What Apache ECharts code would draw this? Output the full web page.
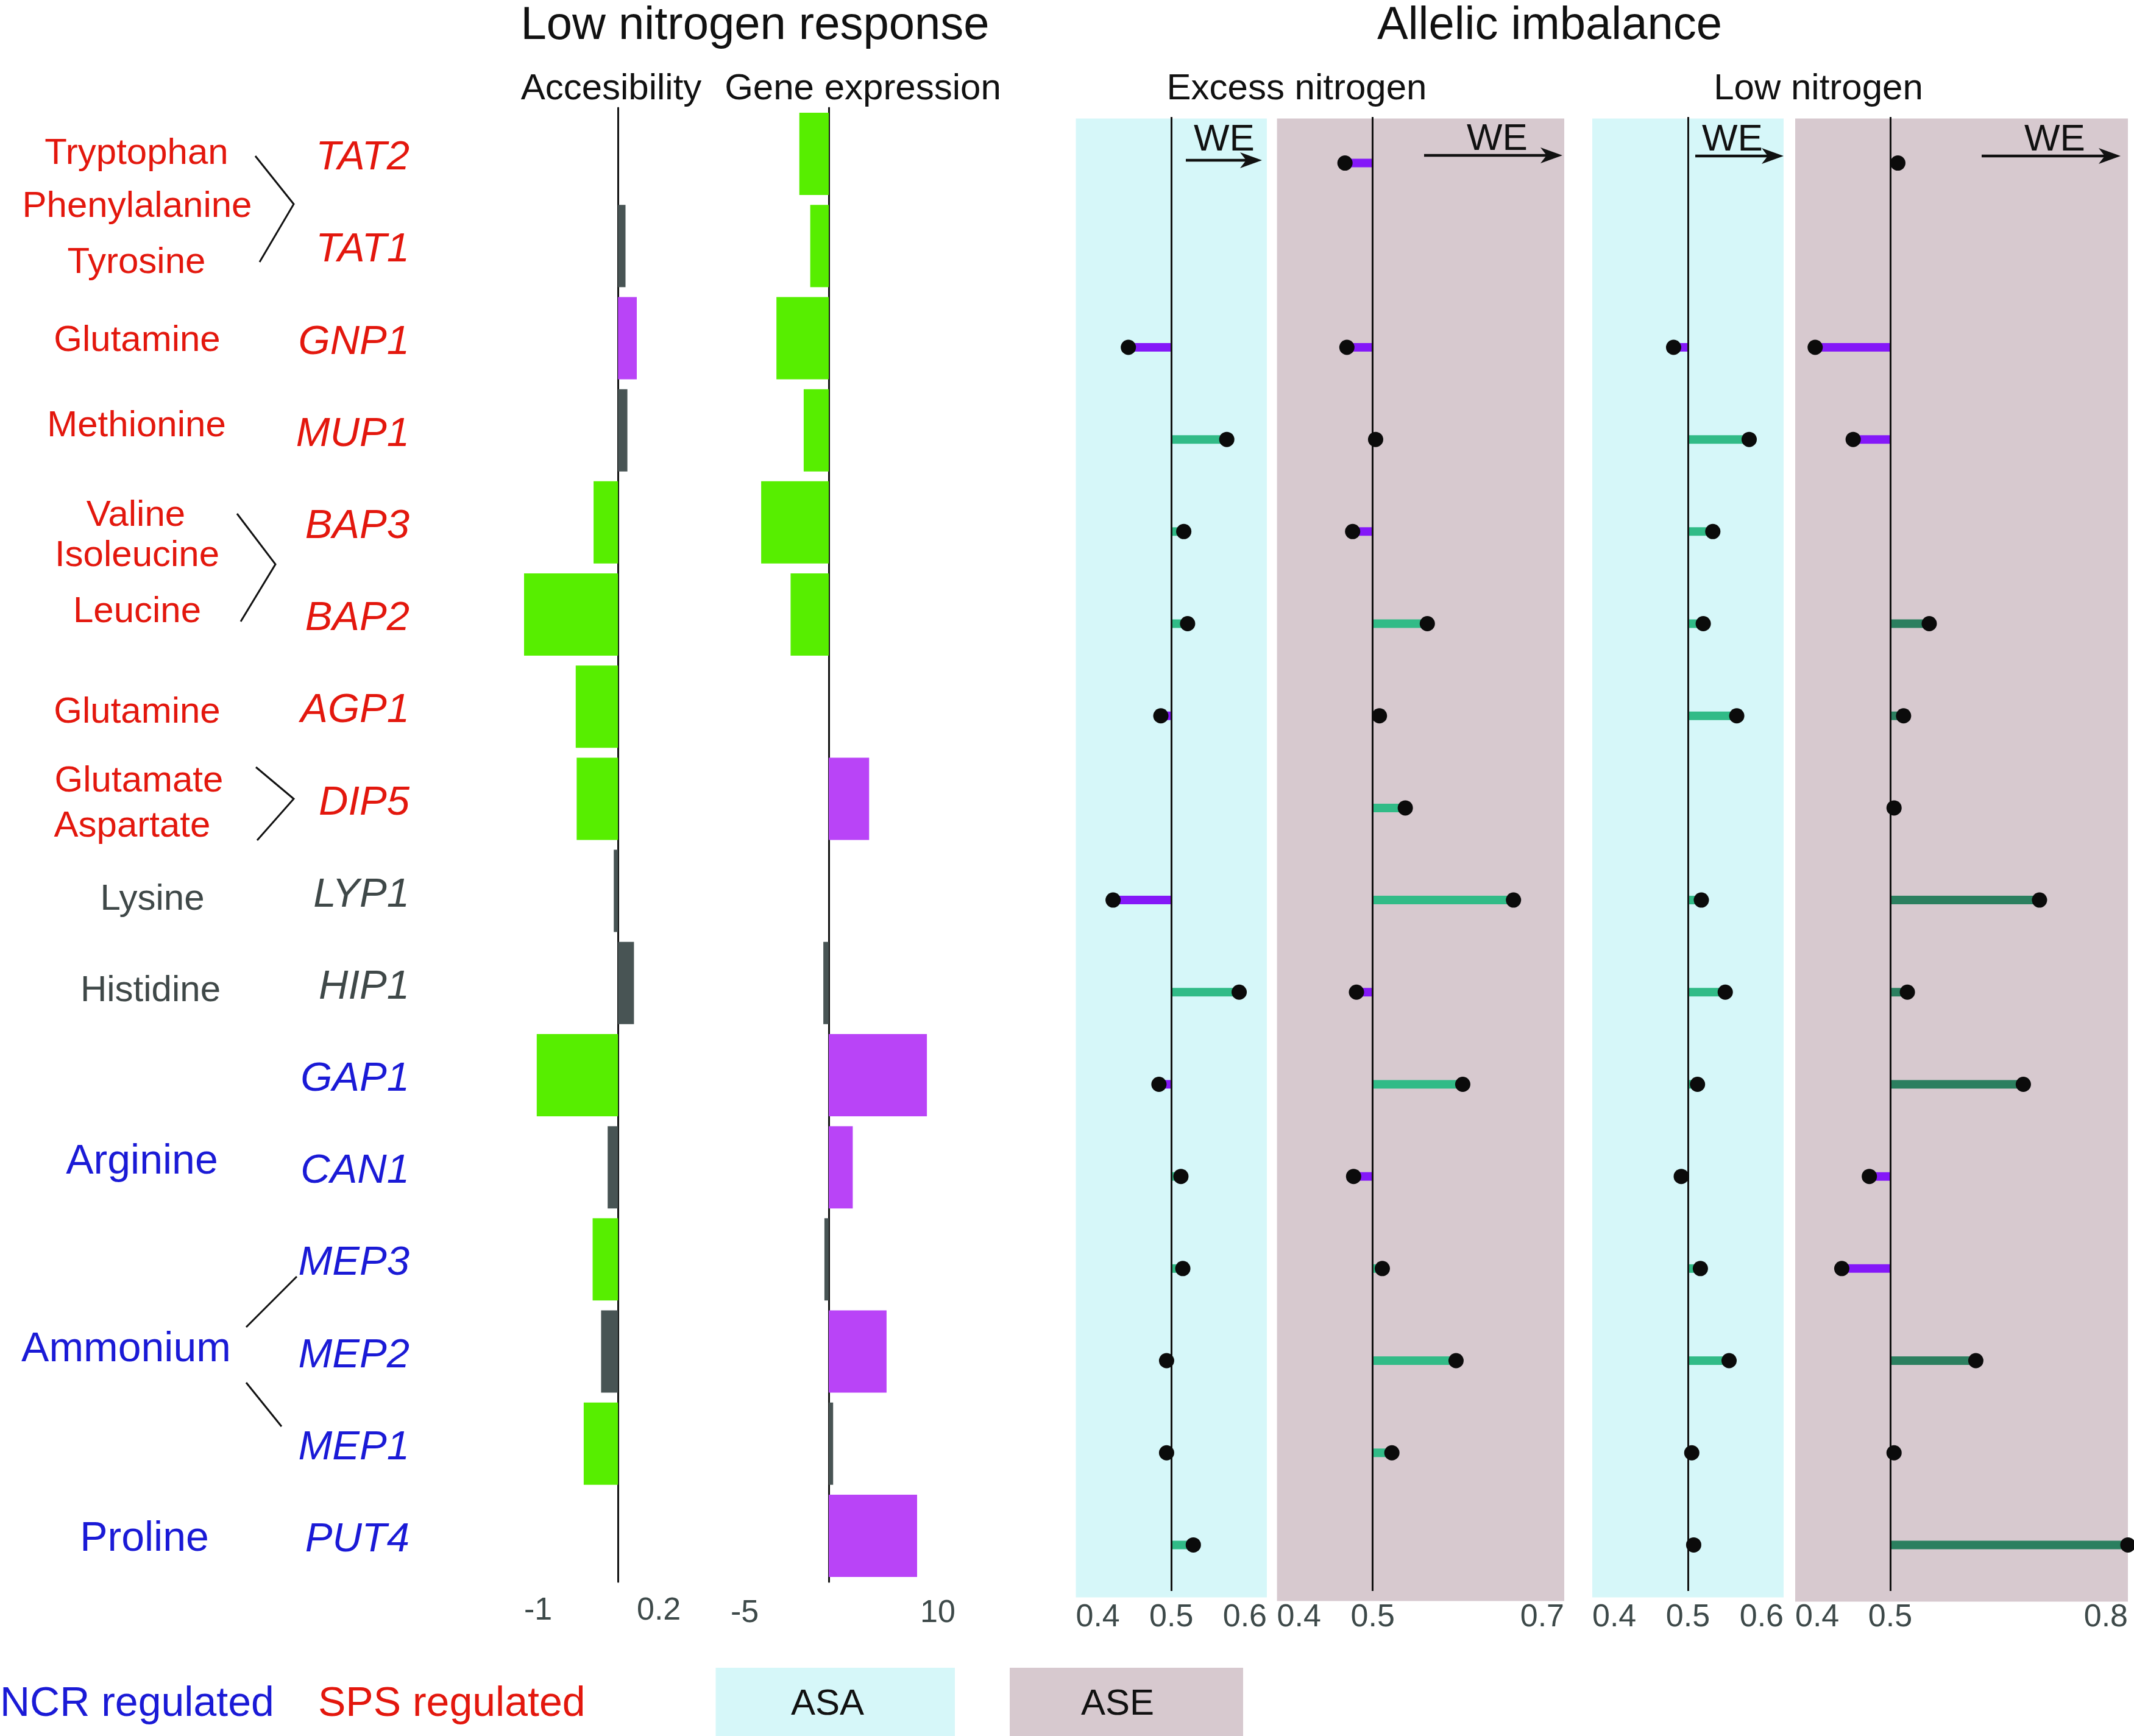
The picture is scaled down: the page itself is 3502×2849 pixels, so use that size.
<!DOCTYPE html>
<html><head><meta charset="utf-8">
<script src="https://cdn.jsdelivr.net/npm/echarts@6/dist/echarts.min.js"></script>
<style>html,body{margin:0;padding:0;background:#fff;}#c{width:3502px;height:2849px;}</style>
</head><body><div id="c"></div>
<script>
// ---------------- data ----------------
const genes = ['TAT2','TAT1','GNP1','MUP1','BAP3','BAP2','AGP1','DIP5','LYP1','HIP1','GAP1','CAN1','MEP3','MEP2','MEP1','PUT4'];
const geneGroup = ['SPS','SPS','SPS','SPS','SPS','SPS','SPS','SPS','none','none','NCR','NCR','NCR','NCR','NCR','NCR'];

// Low nitrogen response
const accessibility = [0, 0.08, 0.20, 0.10, -0.26, -1.0, -0.45, -0.44, -0.045, 0.17, -0.865, -0.11, -0.27, -0.18, -0.365, 0];
const accSignificant = [false,false,true,false,true,true,true,true,false,false,true,false,true,false,true,false];
const expression = [-2.7, -1.7, -4.8, -2.3, -6.2, -3.5, 0, 3.7, 0, -0.5, 9.0, 2.2, -0.4, 5.3, 0.4, 8.1];
const expSignificant = [true,true,true,true,true,true,false,true,false,false,true,true,false,true,false,true];

// Allelic imbalance (allele fraction, null = not measured)
const excessASA = [null, null, 0.455, 0.558, 0.513, 0.517, 0.489, null, 0.439, 0.571, 0.487, 0.510, 0.512, 0.495, 0.495, 0.523];
const excessASE = [0.471, null, 0.473, 0.503, 0.479, 0.557, 0.507, 0.534, 0.647, 0.483, 0.594, 0.480, 0.510, 0.587, 0.520, null];
const lowASA    = [null, null, 0.485, 0.564, 0.526, 0.516, 0.551, null, 0.514, 0.539, 0.510, 0.493, 0.513, 0.543, 0.504, 0.506];
const lowASE    = [0.508, null, 0.421, 0.461, null, 0.541, 0.514, 0.504, 0.657, 0.518, 0.640, 0.478, 0.449, 0.590, 0.504, 0.750];

// tick labels
const accTicks = [-1, 0.2];
const accTickLabels = ['-1', '0.2'];
const expTicks = [-9, 10];
const expTickLabels = ['-5', '10'];
const asaTicks = [0.4, 0.5, 0.6];
const excessAseTicks = [0.4, 0.5, 0.7];
const lowAseTicks = [0.4, 0.5, 0.75];

// amino-acid substrate labels
const aminoText = ['Tryptophan','Phenylalanine','Tyrosine','Glutamine','Methionine','Valine','Isoleucine','Leucine','Glutamine','Glutamate','Aspartate','Lysine','Histidine','Arginine','Ammonium','Proline'];
const aminoGroup = ['SPS','SPS','SPS','SPS','SPS','SPS','SPS','SPS','SPS','SPS','SPS','none','none','NCR','NCR','NCR'];

// ---------------- styling / layout ----------------
const FONT = '"Liberation Sans", Arial, Helvetica, sans-serif';
const groupColor = {SPS:'#e3170d', NCR:'#1a1ad6', none:'#3f4848'};
const groupFont = {SPS: 60, none: 60, NCR: 68};
const GREEN = '#57ee00', PURPLE = '#b944f7', GREY = '#485454';
const SEG_PURPLE = '#8418f8', SEG_GREEN = '#31bb87', SEG_DKGREEN = '#2b7f5f';
const TICK_COLOR = '#3d4949';
const aminoPos = [[224,252],[225,339],[224,431],[225,559],[224,699],[223,846],[225,912],[225,1004],[225,1169],[228,1282],[217,1356],[250,1476],[247,1626],[233,1907],[207,2215],[237,2526]];

const barTop = 177, barH = 2419;
const dotTop = 192, dotH = 2419;

const grids = [
  {left: 860, width: 185, top: barTop, height: barH},      // 0 accessibility
  {left: 1199, width: 340, top: barTop, height: barH},     // 1 expression
  {left: 1765.5, width: 313.5, top: dotTop, height: dotH}, // 2 excess ASA
  {left: 2095.6, width: 471.4, top: dotTop, height: dotH}, // 3 excess ASE
  {left: 2613, width: 314, top: dotTop, height: dotH},     // 4 low ASA
  {left: 2946, width: 546, top: dotTop, height: dotH},     // 5 low ASE
  {left: 682, width: 2, top: barTop + 7, height: barH}     // 6 gene labels
].map(g => Object.assign({outerBoundsMode: 'none', containLabel: false, show: false}, g));

function barColor(v, sig) {
  if (!sig || v === 0) return GREY;
  return v < 0 ? GREEN : PURPLE;
}

function valueAxis(gi, min, max, ticks, labels, alignMin, alignMax, margin) {
  return {
    type: 'value', gridIndex: gi, min: min, max: max,
    axisLine: {show: false}, axisTick: {show: false}, splitLine: {show: false},
    axisLabel: {
      show: true, customValues: ticks, margin: margin,
      fontFamily: FONT, fontSize: 52, color: TICK_COLOR,
      alignMinLabel: alignMin, alignMaxLabel: alignMax,
      formatter: function (v) {
        const i = ticks.findIndex(t => Math.abs(t - v) < 1e-9);
        if (labels) return i >= 0 ? labels[i] : '';
        return (+v).toFixed(1);
      }
    }
  };
}

function catAxis(gi, showLine) {
  return {
    type: 'category', gridIndex: gi, data: genes, inverse: true,
    axisLine: {show: !!showLine, onZero: true, lineStyle: {color: '#111', width: 3}},
    axisTick: {show: false}, axisLabel: {show: false}, splitLine: {show: false}
  };
}

const xAxes = [
  valueAxis(0, -1, 0.2, accTicks, accTickLabels, 'left', 'left', 22),
  valueAxis(1, -9, 10, expTicks, expTickLabels, 'left', 'center', 26),
  valueAxis(2, 0.4, 0.6, asaTicks, null, 'left', 'right', 18),
  valueAxis(3, 0.4, 0.7, excessAseTicks, null, 'left', 'right', 18),
  valueAxis(4, 0.4, 0.6, asaTicks, null, 'left', 'right', 18),
  valueAxis(5, 0.4, 0.75, lowAseTicks, null, 'left', 'right', 18),
  {type: 'value', gridIndex: 6, show: false}
];
const yAxes = [
  catAxis(0, true), catAxis(1, true), catAxis(2), catAxis(3), catAxis(4), catAxis(5),
  {
    type: 'category', gridIndex: 6, data: genes, inverse: true, position: 'left',
    axisLine: {show: false}, axisTick: {show: false}, splitLine: {show: false},
    axisLabel: {
      show: true, margin: 10, fontFamily: FONT, fontSize: 67, fontStyle: 'italic',
      color: function (v) { return groupColor[geneGroup[genes.indexOf(v)]]; }
    }
  }
];

const series = [];
series.push({
  type: 'bar', xAxisIndex: 0, yAxisIndex: 0, barWidth: 135, z: 2,
  data: accessibility.map((v, i) => ({value: v, itemStyle: {color: barColor(v, accSignificant[i])}}))
});
series.push({
  type: 'bar', xAxisIndex: 1, yAxisIndex: 1, barWidth: 135, z: 2,
  data: expression.map((v, i) => ({value: v, itemStyle: {color: barColor(v, expSignificant[i])}}))
});
series.push({type: 'bar', xAxisIndex: 6, yAxisIndex: 6, data: genes.map(() => 0), silent: true});

function dotPanel(gi, values, greenCol) {
  const pts = values.map((v, i) => [v, i]).filter(d => d[0] !== null);
  series.push({
    type: 'custom', xAxisIndex: gi, yAxisIndex: gi, z: 2, silent: true,
    encode: {x: 0, y: 1},
    data: pts,
    renderItem: function (params, api) {
      const v = api.value(0), c = api.value(1);
      const p0 = api.coord([0.5, c]);
      const p1 = api.coord([v, c]);
      const h = 14;
      return {
        type: 'rect',
        shape: {x: Math.min(p0[0], p1[0]), y: p0[1] - h / 2, width: Math.abs(p1[0] - p0[0]), height: h},
        style: {fill: v < 0.5 ? SEG_PURPLE : greenCol}
      };
    }
  });
  series.push({
    type: 'scatter', xAxisIndex: gi, yAxisIndex: gi, z: 10, silent: true,
    symbol: 'circle', symbolSize: 25,
    itemStyle: {color: '#0b0b0b', opacity: 1},
    data: pts,
    markLine: {
      silent: true, symbol: ['none', 'none'], z: 3,
      label: {show: false},
      lineStyle: {color: '#111', width: 3, type: 'solid'},
      data: [{xAxis: 0.5}]
    }
  });
}
dotPanel(2, excessASA, SEG_GREEN);
dotPanel(3, excessASE, SEG_GREEN);
dotPanel(4, lowASA, SEG_GREEN);
dotPanel(5, lowASE, SEG_DKGREEN);

// ---------------- annotations ----------------
const graphics = [];
function txt(text, x, y, size, color, align) {
  graphics.push({
    type: 'text', z: 20, silent: true,
    style: {text: text, x: x, y: y, fill: color || '#111', font: size + 'px ' + FONT,
      textAlign: align || 'center', align: align || 'center', textVerticalAlign: 'middle', verticalAlign: 'middle'}
  });
}
function rect(x, y, w, h, color, z) {
  graphics.push({type: 'rect', z: z, silent: true, shape: {x: x, y: y, width: w, height: h}, style: {fill: color}});
}
function poly(points, width) {
  graphics.push({type: 'polyline', z: 20, silent: true, shape: {points: points}, style: {stroke: '#111', lineWidth: width || 3, fill: null}});
}
function arrow(x1, x2, y) {
  graphics.push({type: 'line', z: 20, silent: true, shape: {x1: x1, y1: y, x2: x2 - 20, y2: y}, style: {stroke: '#111', lineWidth: 4.5}});
  graphics.push({type: 'polygon', z: 20, silent: true,
    shape: {points: [[x2, y], [x2 - 36, y - 13], [x2 - 26, y], [x2 - 36, y + 13]]}, style: {fill: '#111'}});
}

// panel backgrounds
rect(1765.5, 194.5, 313.5, 2427, '#d6f7f9', 0);
rect(2095.6, 194.5, 471.4, 2433, '#d7c9cf', 0);
rect(2613, 194.5, 314, 2427, '#d6f7f9', 0);
rect(2946, 194.5, 546, 2434, '#d7c9cf', 0);

// titles
txt('Low nitrogen response', 1239, 43, 76);
txt('Allelic imbalance', 2543, 43, 76);
txt('Accesibility', 1003, 146, 60);
txt('Gene expression', 1416, 146, 60);
txt('Excess nitrogen', 2128, 146, 60);
txt('Low nitrogen', 2984, 146, 60);

// amino acids
aminoText.forEach((t, i) => txt(t, aminoPos[i][0], aminoPos[i][1], groupFont[aminoGroup[i]], groupColor[aminoGroup[i]]));

// brackets
poly([[419, 256], [482, 335], [426, 430]]);
poly([[389, 843], [452, 926], [395, 1020]]);
poly([[420, 1259], [482, 1311], [422, 1379]]);
poly([[487, 2095], [404, 2178]]);
poly([[404, 2269], [462, 2341]]);

// WE arrows
txt('WE', 2009, 230, 62);
arrow(1946, 2071, 263);
txt('WE', 2457, 229, 62);
arrow(2337, 2564, 255);
txt('WE', 2843, 230, 62);
arrow(2782, 2927, 256);
txt('WE', 3372, 230, 62);
arrow(3252, 3480, 256);

// legend
txt('NCR regulated', 0, 2797, 68, groupColor.NCR, 'left');
txt('SPS regulated', 522, 2797, 68, groupColor.SPS, 'left');
rect(1174.5, 2737, 392.5, 112, '#d6f7f9', 1);
txt('ASA', 1358, 2797, 60);
rect(1657, 2737, 383, 112, '#d7c9cf', 1);
txt('ASE', 1834, 2797, 60);

const chart = echarts.init(document.getElementById('c'), null, {renderer: 'canvas'});
chart.setOption({
  animation: false,
  backgroundColor: '#ffffff',
  textStyle: {fontFamily: FONT},
  grid: grids,
  xAxis: xAxes,
  yAxis: yAxes,
  series: series,
  graphic: graphics
});
</script>
</body></html>
